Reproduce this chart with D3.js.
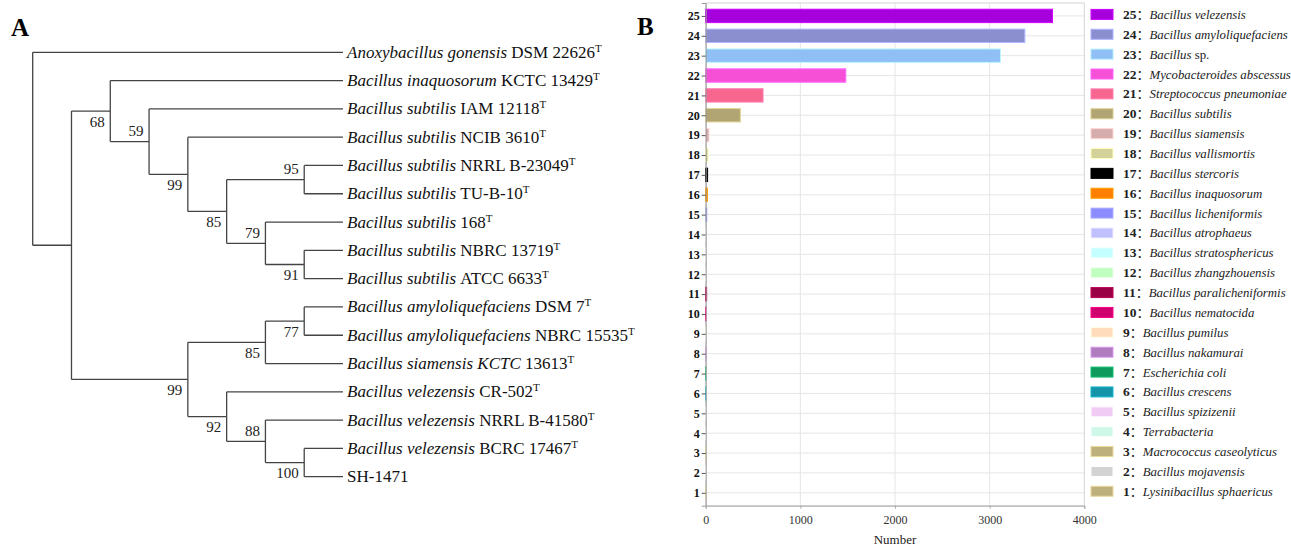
<!DOCTYPE html>
<html>
<head>
<meta charset="utf-8">
<script src="https://cdn.jsdelivr.net/npm/d3@7"></script>
<style>
  body { margin: 0; background: #fff; }
  text { font-family: "Liberation Serif", "Times New Roman", serif; }
</style>
</head>
<body>
<script>
// ---- panel A: tree ----
const leafItalic = [
  "Anoxybacillus gonensis", "Bacillus inaquosorum", "Bacillus subtilis", "Bacillus subtilis",
  "Bacillus subtilis", "Bacillus subtilis", "Bacillus subtilis", "Bacillus subtilis",
  "Bacillus subtilis", "Bacillus amyloliquefaciens", "Bacillus amyloliquefaciens", "Bacillus siamensis KCTC",
  "Bacillus velezensis", "Bacillus velezensis", "Bacillus velezensis", ""
];
const leafRoman = [
  "DSM 22626", "KCTC 13429", "IAM 12118", "NCIB 3610",
  "NRRL B-23049", "TU-B-10", "168", "NBRC 13719",
  "ATCC 6633", "DSM 7", "NBRC 15535", "13613",
  "CR-502", "NRRL B-41580", "BCRC 17467", "SH-1471"
];
const leafType = [1,1,1,1,1,1,1,1,1,1,1,1,1,1,1,0];

// nested leaf indices
const topology = [0, [[1, [2, [3, [[4, 5], [6, [7, 8]]]]]], [[[9, 10], 11], [12, [13, [14, 15]]]]]];
// bootstrap per internal node, preorder
const bootstrap = [null, null, 68, 59, 99, 85, 95, 79, 91, 99, 85, 77, 92, 88, 100];
const bootAbove = [3, 6, 7, 13];

// ---- panel B: bars ----
const ids = d3.range(1, 26);
const species = [
  "Lysinibacillus sphaericus", "Bacillus mojavensis", "Macrococcus caseolyticus", "Terrabacteria",
  "Bacillus spizizenii", "Bacillus crescens", "Escherichia coli", "Bacillus nakamurai",
  "Bacillus pumilus", "Bacillus nematocida", "Bacillus paralicheniformis", "Bacillus zhangzhouensis",
  "Bacillus stratosphericus", "Bacillus atrophaeus", "Bacillus licheniformis", "Bacillus inaquosorum",
  "Bacillus stercoris", "Bacillus vallismortis", "Bacillus siamensis", "Bacillus subtilis",
  "Streptococcus pneumoniae", "Mycobacteroides abscessus", "Bacillus sp.", "Bacillus amyloliquefaciens",
  "Bacillus velezensis"
];
const counts = [1, 1, 1, 1, 1, 1, 1, 2, 2, 3, 10, 10, 10, 10, 12, 18, 20, 25, 35, 366, 606, 1480, 3114, 3372, 3664];
const colors = [
  "#bdb07c", "#d3d3d3", "#bdb07c", "#cff8e8", "#f0ccf5", "#1394a8", "#0d9a5c", "#b07cc0",
  "#ffdcbc", "#d0006f", "#9a0045", "#c0ffc0", "#c4ffff", "#c0c0ff", "#8c8cff", "#ff7f00",
  "#000000", "#d4d29b", "#d6adad", "#b1a673", "#f7668f", "#f550d6", "#8fbff5", "#8b8fcf",
  "#a600dd"
];
const xTicks = [0, 1000, 2000, 3000, 4000];

const svg = d3.select("body").append("svg")
  .attr("width", 1291)
  .attr("height", 547);

// panel letters
svg.append("text").attr("x", 11).attr("y", 36).text("A")
  .style("font-size", "25px").style("font-weight", "bold");
svg.append("text").attr("x", 637).attr("y", 35).text("B")
  .style("font-size", "25px").style("font-weight", "bold");

// ---- tree ----
const root = d3.hierarchy(topology, d => Array.isArray(d) ? d : null);
const leafStep = (476.7 - 52.3) / 15;
const levelStep = (343 - 32.7) / 8;
d3.cluster().nodeSize([leafStep, levelStep]).separation(() => 1)(root);
const top0 = 52.3 - root.leaves()[0].x;

let k = 0;
root.eachBefore(n => {
  if (n.children) { n.boot = bootstrap[k]; n.above = bootAbove.includes(k); k++; }
});

const tree = svg.append("g").attr("transform", "translate(32.7," + top0 + ")");
const stroke = "#444";

root.descendants().forEach(n => {
  if (!n.children) return;
  let ys = n.children.map(c => c.x);
  tree.append("line")
    .attr("x1", n.y).attr("x2", n.y)
    .attr("y1", d3.min(ys)).attr("y2", d3.max(ys))
    .attr("stroke", stroke).attr("stroke-width", 1.3);
  n.children.forEach(c => {
    tree.append("line")
      .attr("x1", n.y).attr("x2", c.y)
      .attr("y1", c.x).attr("y2", c.x)
      .attr("stroke", stroke).attr("stroke-width", 1.3);
  });
});

// bootstrap labels
root.descendants().filter(n => n.boot != null).forEach(n => {
  tree.append("text")
    .attr("x", n.y - 5.5)
    .attr("y", n.above ? n.x - 5.5 : n.x + 15.5)
    .attr("text-anchor", "end")
    .style("font-size", "15px")
    .attr("fill", "#222")
    .text(n.boot);
});

// leaf labels
root.leaves().forEach(n => {
  let i = n.data;
  let t = tree.append("text")
    .attr("x", n.y + 4)
    .attr("y", n.x + 5.5)
    .style("font-size", "17px")
    .attr("fill", "#111");
  if (leafItalic[i]) t.append("tspan").style("font-style", "italic").text(leafItalic[i] + " ");
  t.append("tspan").text(leafRoman[i]);
  if (leafType[i]) t.append("tspan").attr("dy", -6).style("font-size", "11px").text("T");
});

// ---- bar chart ----
const x = d3.scaleLinear().domain([0, 4000]).range([705.7, 1084.3]);
const y = d3.scalePoint().domain(ids).range([505.7, 3]).padding(0.65);
const barH = 13.4;

const plot = svg.append("g");

// grid
plot.selectAll(".hgrid").data(ids).enter().append("line")
  .attr("class", "hgrid")
  .attr("x1", x(0)).attr("x2", x(4000))
  .attr("y1", d => y(d)).attr("y2", d => y(d))
  .attr("stroke", "#e6e6e6");
plot.selectAll(".vgrid").data(xTicks.slice(1, 4)).enter().append("line")
  .attr("class", "vgrid")
  .attr("x1", d => x(d)).attr("x2", d => x(d))
  .attr("y1", 3).attr("y2", 505.7)
  .attr("stroke", "#e6e6e6");

// frame
plot.append("rect")
  .attr("x", x(0)).attr("y", 3)
  .attr("width", x(4000) - x(0)).attr("height", 505.7 - 3)
  .attr("fill", "none").attr("stroke", "#d4d4d4");

// bars
plot.selectAll(".bar").data(ids).enter().append("rect")
  .attr("class", "bar")
  .attr("x", x(0))
  .attr("y", d => y(d) - barH / 2)
  .attr("width", d => x(counts[d - 1]) - x(0))
  .attr("height", barH)
  .attr("fill", d => colors[d - 1])
  .attr("stroke", d => d3.color(colors[d - 1]).brighter(0.7))
  .attr("stroke-width", 1);

// axes
const yAxis = plot.append("g")
  .attr("transform", "translate(" + x(0) + ",0)")
  .call(d3.axisLeft(y).tickSize(4).tickPadding(2));
yAxis.select(".domain").attr("stroke", "#999");
yAxis.selectAll(".tick line").attr("stroke", "#555");
yAxis.selectAll(".tick text")
  .style("font-family", "Liberation Serif")
  .style("font-size", "12px").style("font-weight", "bold").attr("fill", "#111");

const xAxis = plot.append("g")
  .attr("transform", "translate(0,505.7)")
  .call(d3.axisBottom(x).tickValues(xTicks).tickFormat(d3.format("d")).tickSize(3).tickPadding(7));
xAxis.select(".domain").attr("stroke", "#aaa");
xAxis.selectAll(".tick line").attr("stroke", "#aaa");
xAxis.selectAll(".tick text")
  .style("font-family", "Liberation Serif")
  .style("font-size", "12px").attr("fill", "#333");

svg.append("text")
  .attr("x", (x(0) + x(4000)) / 2).attr("y", 544)
  .attr("text-anchor", "middle")
  .style("font-size", "13px").attr("fill", "#222")
  .text("Number");

// legend
const legend = svg.append("g");
legend.selectAll(".sw").data(ids).enter().append("rect")
  .attr("class", "sw")
  .attr("x", 1091).attr("y", d => y(d) - 6.5)
  .attr("width", 22).attr("height", 10)
  .attr("fill", d => colors[d - 1])
  .attr("stroke", d => d3.color(colors[d - 1]).brighter(0.6));

legend.selectAll(".lt").data(ids).enter().append("text")
  .attr("class", "lt")
  .attr("x", 1123).attr("y", d => y(d) + 3)
  .style("font-size", "12.8px").attr("fill", "#222")
  .each(function(d) {
    let t = d3.select(this);
    t.append("tspan").style("font-weight", "bold").style("font-size", "13.5px").text(d);
    t.append("tspan").style("font-family", "Noto Sans CJK SC").style("font-size", "13px").text("：");
    let name = species[d - 1];
    if (name.endsWith(" sp.")) {
      t.append("tspan").style("font-style", "italic").text(name.replace(" sp.", " "));
      t.append("tspan").text("sp.");
    } else {
      t.append("tspan").style("font-style", "italic").text(name);
    }
  });
</script>
</body>
</html>
